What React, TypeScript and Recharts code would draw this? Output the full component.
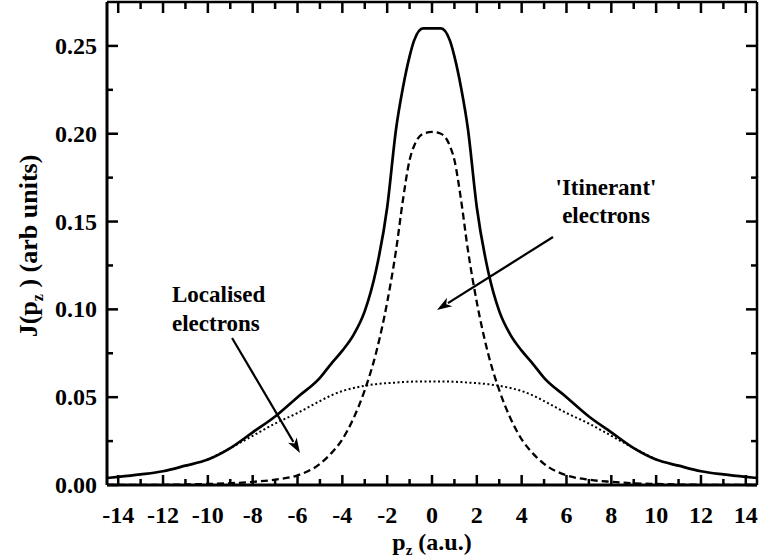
import { LineChart, Line, XAxis, YAxis, ReferenceLine } from 'recharts';

// momentum p_z (a.u.)
const pz = [-14.5, -14, -13, -12, -11, -10, -9, -8, -7, -6, -5, -4.5, -4, -3.5, -3, -2.5, -2, -1.6, -1.3, -1, -0.8, -0.4, 0,
    0.4, 0.8, 1, 1.3, 1.6, 2, 2.5, 3, 3.5, 4, 4.5, 5, 6, 7, 8, 9, 10, 11, 12, 13, 14, 14.5];

// total profile (solid)
const total = [0.004, 0.0046, 0.006, 0.0078, 0.011, 0.0145, 0.021, 0.030, 0.039, 0.050, 0.061, 0.069, 0.0765, 0.0855, 0.099, 0.122, 0.158, 0.203, 0.226, 0.244, 0.253, 0.260, 0.260,
    0.260, 0.253, 0.244, 0.226, 0.203, 0.158, 0.122, 0.099, 0.0855, 0.0765, 0.069, 0.061, 0.050, 0.039, 0.030, 0.021, 0.0145, 0.011, 0.0078, 0.006, 0.0046, 0.004];

// itinerant electrons (dashed)
const itinerant = [0, 0, 0, 0.0001, 0.0003, 0.0006, 0.001, 0.0018, 0.003, 0.0055, 0.012, 0.018, 0.026, 0.038, 0.054, 0.075, 0.104, 0.134, 0.162, 0.185, 0.193, 0.200, 0.201,
    0.200, 0.193, 0.185, 0.162, 0.134, 0.104, 0.075, 0.054, 0.038, 0.026, 0.018, 0.012, 0.0055, 0.003, 0.0018, 0.001, 0.0006, 0.0003, 0.0001, 0, 0, 0];

// localised electrons (dotted)
const localised = [null, null, null, null, null, 0.0145, 0.021, 0.028, 0.035, 0.041, 0.0478, 0.051, 0.0535, 0.0552, 0.0565, 0.0574, 0.058, 0.0583, 0.0586, 0.0588, 0.0589, 0.059, 0.059,
    0.059, 0.0589, 0.0588, 0.0586, 0.0583, 0.058, 0.0574, 0.0565, 0.0552, 0.0535, 0.051, 0.0478, 0.041, 0.035, 0.028, 0.021, 0.0145, null, null, null, null, null];

const xTicks = [-14, -13, -12, -11, -10, -9, -8, -7, -6, -5, -4, -3, -2, -1, 0, 1, 2, 3, 4, 5, 6, 7, 8, 9, 10, 11, 12, 13, 14];
const yTicks = [0, 0.025, 0.05, 0.075, 0.1, 0.125, 0.15, 0.175, 0.2, 0.225, 0.25];

// arrow annotations, in data coordinates
const localisedArrow = [{ x: -8.92, y: 0.0837 }, { x: -5.89, y: 0.0182 }];
const itinerantArrow = [{ x: 5.4, y: 0.1412 }, { x: 0.22, y: 0.0996 }];

const data = pz.map((p, i) => ({ p, total: total[i], itinerant: itinerant[i], localised: localised[i] }));

const X_DOMAIN: [number, number] = [-14.5, 14.5];
const Y_DOMAIN: [number, number] = [0, 0.275];

// plot box that follows from the chart margins / axis sizes below
const W = 759;
const H = 559;
const MARGIN = { top: 1, right: 1, bottom: 0, left: 0 };
const X_AXIS_H = 74;
const Y_AXIS_W = 107;
const plot = {
    left: MARGIN.left + Y_AXIS_W,
    right: W - MARGIN.right - 1,
    top: MARGIN.top + 1,
    bottom: H - MARGIN.bottom - X_AXIS_H,
};
const sx = (v: number) => plot.left + ((v - X_DOMAIN[0]) / (X_DOMAIN[1] - X_DOMAIN[0])) * (plot.right - plot.left);
const sy = (v: number) => plot.bottom - ((v - Y_DOMAIN[0]) / (Y_DOMAIN[1] - Y_DOMAIN[0])) * (plot.bottom - plot.top);

const FONT = '"Liberation Serif", "Times New Roman", serif';
const isMajorX = (v: number) => Math.abs(v) % 2 === 0;
const isMajorY = (v: number) => Math.abs(Math.round(v * 1000)) % 50 === 0;

function BottomLabel({ x, y, payload }: any) {
    if (!isMajorX(payload.value)) return <g />;
    return (
        <text x={x} y={y + 38} textAnchor="middle" fontFamily={FONT} fontWeight="bold" fontSize={24} fill="#000">
            {payload.value}
        </text>
    );
}

function LeftLabel({ x, y, payload }: any) {
    if (!isMajorY(payload.value)) return <g />;
    return (
        <text x={x - 10} y={y + 8} textAnchor="end" fontFamily={FONT} fontWeight="bold" fontSize={24} fill="#000">
            {payload.value.toFixed(2)}
        </text>
    );
}

const NoLabel = () => <g />;

function Arrow({ x1, y1, x2, y2 }: any) {
    const dx = x2 - x1;
    const dy = y2 - y1;
    const len = Math.sqrt(dx * dx + dy * dy);
    const ux = dx / len;
    const uy = dy / len;
    const head = 15;
    const half = 5;
    const bx = x2 - ux * head;
    const by = y2 - uy * head;
    return (
        <g>
            <line x1={x1} y1={y1} x2={bx + ux * 2} y2={by + uy * 2} stroke="#000" strokeWidth={2.2} />
            <polygon
                points={`${x2},${y2} ${bx - uy * half},${by + ux * half} ${bx + ux * 4},${by + uy * 4} ${bx + uy * half},${by - ux * half}`}
                fill="#000"
            />
        </g>
    );
}

const textStyle = { fontFamily: FONT, fontWeight: 'bold' as const, fill: '#000' };

export default function App() {
    return (
        <div style={{ position: 'absolute', left: 0, top: 0, width: W, height: H, background: '#fff' }}>
            <LineChart width={W} height={H} data={data} margin={MARGIN}>
                <XAxis
                    dataKey="p"
                    type="number"
                    domain={X_DOMAIN}
                    ticks={xTicks}
                    interval={0}
                    height={X_AXIS_H}
                    tickSize={0}
                    tickMargin={0}
                    tickLine={false}
                    axisLine={{ stroke: '#000', strokeWidth: 3 }}
                    tick={<BottomLabel />}
                    allowDataOverflow
                />
                <XAxis
                    xAxisId="top"
                    dataKey="p"
                    orientation="top"
                    type="number"
                    domain={X_DOMAIN}
                    height={1}
                    tickLine={false}
                    axisLine={{ stroke: '#000', strokeWidth: 2.5 }}
                    tick={<NoLabel />}
                    allowDataOverflow
                />
                <YAxis
                    type="number"
                    domain={Y_DOMAIN}
                    ticks={yTicks}
                    interval={0}
                    width={Y_AXIS_W}
                    tickSize={0}
                    tickMargin={0}
                    tickLine={false}
                    axisLine={{ stroke: '#000', strokeWidth: 3 }}
                    tick={<LeftLabel />}
                    allowDataOverflow
                />
                <YAxis
                    yAxisId="right"
                    orientation="right"
                    type="number"
                    domain={Y_DOMAIN}
                    width={1}
                    tickLine={false}
                    axisLine={{ stroke: '#000', strokeWidth: 2.5 }}
                    tick={<NoLabel />}
                    allowDataOverflow
                />

                {/* dotted curve sits on the mirror axes (same scales) so they get drawn */}
                <Line xAxisId="top" yAxisId="right" dataKey="localised" type="monotone" stroke="#000" strokeWidth={2} strokeDasharray="2 2.5" dot={false} isAnimationActive={false} />
                <Line dataKey="itinerant" type="monotone" stroke="#000" strokeWidth={2.3} strokeDasharray="7 4" dot={false} isAnimationActive={false} />
                <Line dataKey="total" type="monotone" stroke="#000" strokeWidth={2.7} dot={false} isAnimationActive={false} />

                <ReferenceLine segment={localisedArrow} shape={(props: any) => <Arrow {...props} />} />
                <ReferenceLine segment={itinerantArrow} shape={(props: any) => <Arrow {...props} />} />
            </LineChart>

            <svg width={W} height={H} style={{ position: 'absolute', left: 0, top: 0, pointerEvents: 'none' }}>
                {/* inward tick marks on all four sides, majors longer */}
                <g stroke="#000" strokeWidth={2.5} fill="none">
                    {xTicks.map((t) => {
                        const x = sx(t);
                        const len = isMajorX(t) ? 10 : 6;
                        return (
                            <g key={`x${t}`}>
                                <path d={`M${x},${plot.bottom}V${plot.bottom - len}`} />
                                <path d={`M${x},${plot.top}V${plot.top + len + 1}`} />
                            </g>
                        );
                    })}
                    {yTicks.map((t) => {
                        const y = sy(t);
                        const len = isMajorY(t) ? 11 : 6;
                        return (
                            <g key={`y${t}`}>
                                <path d={`M${plot.left},${y}H${plot.left + len}`} />
                                <path d={`M${plot.right},${y}H${plot.right - len}`} />
                            </g>
                        );
                    })}
                </g>

                <text transform="translate(37 246) rotate(-90)" textAnchor="middle" fontSize={26} {...textStyle}>
                    J(p<tspan fontSize={16} dy={6}>z</tspan><tspan dy={-6}> ) (arb units)</tspan>
                </text>
                <text x={432} y={550} textAnchor="middle" fontSize={24} {...textStyle}>
                    p<tspan fontSize={15} dy={5}>z</tspan><tspan dy={-5}> (a.u.)</tspan>
                </text>

                <text x={172} y={302} fontSize={23} {...textStyle}>Localised</text>
                <text x={172} y={331} fontSize={23} {...textStyle}>electrons</text>
                <text x={606} y={195} textAnchor="middle" fontSize={23} {...textStyle}>'Itinerant'</text>
                <text x={606} y={223} textAnchor="middle" fontSize={23} {...textStyle}>electrons</text>
            </svg>
        </div>
    );
}
